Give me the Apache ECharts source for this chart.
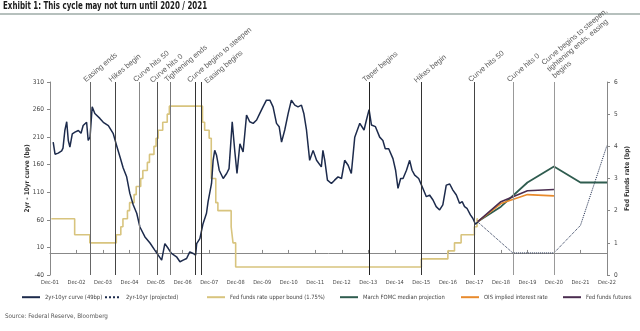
<!DOCTYPE html>
<html><head><meta charset="utf-8">
<script src="https://cdn.jsdelivr.net/npm/echarts@6/dist/echarts.min.js"></script>
<style>html,body{margin:0;padding:0;background:#fff}#c{width:640px;height:331px}</style>
</head><body><div id="c"></div>
<script>
// x values are years after Dec 2001 (0 = Dec-01, 21 = Dec-22)
const xTickLabels = ['Dec-01','Dec-02','Dec-03','Dec-04','Dec-05','Dec-06','Dec-07','Dec-08','Dec-09','Dec-10','Dec-11','Dec-12','Dec-13','Dec-14','Dec-15','Dec-16','Dec-17','Dec-18','Dec-19','Dec-20','Dec-21','Dec-22'];

// 2yr-10yr curve (bp), left axis
const curveT = [0.12,0.19,0.31,0.44,0.49,0.56,0.63,0.69,0.75,0.84,0.94,1.07,1.17,1.25,1.38,1.44,1.51,1.59,1.69,1.88,2.01,2.20,2.38,2.51,2.64,2.76,2.89,3.01,3.14,3.27,3.39,3.58,3.77,3.95,4.08,4.21,4.33,4.46,4.58,4.77,4.90,5.02,5.15,5.27,5.40,5.49,5.53,5.65,5.77,5.90,5.96,6.09,6.15,6.21,6.28,6.38,6.53,6.66,6.75,6.87,6.97,7.05,7.16,7.28,7.41,7.53,7.66,7.79,7.91,8.03,8.16,8.29,8.41,8.54,8.64,8.73,8.85,8.98,9.10,9.23,9.35,9.48,9.57,9.67,9.79,9.92,10.05,10.11,10.23,10.29,10.36,10.46,10.61,10.73,10.86,10.99,11.11,11.24,11.36,11.49,11.68,11.84,11.93,12.03,12.12,12.27,12.43,12.55,12.64,12.77,12.93,13.03,13.12,13.22,13.31,13.44,13.56,13.65,13.75,13.90,14.06,14.19,14.31,14.44,14.56,14.69,14.81,14.94,15.07,15.19,15.32,15.44,15.54,15.63,15.72,15.76,15.85,15.94,16.04,16.13];
const curveV = [201,179,181,185,190,222,238,204,192,216,219,222,217,231,237,204,210,265,253,244,237,231,217,195,174,154,138,108,87,72,47,29,18,5,-4,-13,17,8,-1,-7,-16,-13,-10,2,-1,-4,17,26,53,72,93,126,168,186,177,150,135,144,153,238,183,144,198,183,250,238,235,241,253,265,277,277,265,235,229,201,223,253,277,268,265,268,253,223,168,186,168,165,156,186,168,132,126,132,138,135,168,159,144,210,235,223,241,260,232,229,210,204,189,189,171,150,117,135,135,150,168,150,141,135,117,102,105,96,84,78,87,123,125,114,105,90,93,84,81,84,69,63,52,56];

// 2yr-10yr projected (bp), left axis
const projT = [16.13,17.45,19.0,20.0,21.0];
const projV = [56,0,0,50,195];

// Fed funds rate upper bound (%), right axis
const fedT = [0.05,0.93,1.5,2.5,2.67,2.75,2.92,3.0,3.17,3.25,3.42,3.5,3.67,3.75,3.92,4.0,4.08,4.25,4.42,4.5,5.75,5.83,6.0,6.08,6.25,6.33,6.83,6.9,7.0,14.0,15.0,15.25,15.5,16.0,16.1,16.13];
const fedV = [1.75,1.25,1.0,1.25,1.5,1.75,2.0,2.25,2.5,2.75,3.0,3.25,3.5,3.75,4.0,4.25,4.5,4.75,5.0,5.25,4.75,4.5,4.25,3.0,2.25,2.0,1.5,1.0,0.25,0.5,0.75,1.0,1.25,1.5,1.75,1.75];

// Projections (%), right axis
const fomcT = [16.13,17,18,19,20,21];
const fomcV = [1.66,2.125,2.875,3.375,2.875,2.875];
const oisT = [16.13,17,18,19];
const oisV = [1.66,2.22,2.5,2.46];
const futT = [16.13,17,18,19];
const futV = [1.66,2.28,2.62,2.66];

// Event markers
const eventT = [1.5,2.45,3.37,4.03,4.55,5.49,5.72,12.02,13.99,16.0,17.46,19.0];
const eventLabels = ['Easing ends','Hikes begin','Curve hits 50','Curve hits 0','Tightening ends','Curve begins to steepen','Easing begins','Taper begins','Hikes begin','Curve hits 50','Curve hits 0','Curve begins to steepen,\ntightening ends, easing\nbegins'];
const eventColors = ['#666','#444','#888','#555','#777','#333','#333','#222','#333','#444','#999','#999'];
const eventOffset = [[-3,0],[-3,0],[-3,0],[-4,0],[-3,0],[-5,-1],[3,7],[-3,0],[-4,0],[-3,0],[-3,0],[3,0]];

const seriesNames = ['2yr-10yr curve (49bp)','2yr-10yr (projected)','Fed funds rate upper bound (1.75%)','March FOMC median projection','OIS implied interest rate','Fed funds futures'];
const legendLeft = [21,104,206,339,460,562];

const zip = (a,b) => a.map((v,i)=>[v,b[i]]);
const NARROW = "'Liberation Sans Narrow','DejaVu Sans Condensed','Liberation Sans',sans-serif";
const SANS = "'Liberation Sans',Arial,sans-serif";

const chart = echarts.init(document.getElementById('c'), null, {renderer:'canvas'});
chart.setOption({
  animation:false,
  backgroundColor:'#fff',
  title:[
    {text:'Source: Federal Reserve, Bloomberg', left:5, top:313, padding:0,
     textStyle:{fontSize:6.3, fontWeight:'normal', color:'#555', fontFamily:NARROW}}
  ],
  graphic:[
    {type:'text', left:3, top:1, scaleX:0.75, style:{text:'Exhibit 1: This cycle may not turn until 2020 / 2021',
      font:"bold 10.5px 'Liberation Sans Narrow','DejaVu Sans Condensed','Liberation Sans',sans-serif", fill:'#1a1a1a'}},
    {type:'line', shape:{x1:0,y1:14,x2:640,y2:14}, style:{stroke:'#6f827d', lineWidth:1.2}}
  ],
  legend: seriesNames.map((n,i)=>({
    data:[n], left:legendLeft[i], top:294, itemWidth:i===1?16:18, itemHeight:8, padding:0,
    itemStyle:{opacity:0},
    textStyle:{fontSize:5.8, color:'#444', fontFamily:NARROW}, selectedMode:false
  })),
  grid:{left:50, right:33, top:82, bottom:56},
  xAxis:{type:'value', min:0, max:21, interval:1,
    axisLine:{lineStyle:{color:'#888'}},
    axisTick:{inside:true, length:3, lineStyle:{color:'#888'}},
    splitLine:{show:false},
    axisLabel:{formatter:v=>xTickLabels[Math.round(v)], fontSize:5.6, color:'#444', margin:5, fontFamily:NARROW}},
  yAxis:[
    {type:'value', min:-40, max:310, interval:50, name:'2yr - 10yr curve (bp)', nameLocation:'middle', nameGap:19,
     nameMoveOverlap:false,
     nameTextStyle:{fontSize:6.5, fontWeight:'bold', color:'#333', fontFamily:NARROW},
     axisLine:{show:true, lineStyle:{color:'#888'}}, axisTick:{show:true, length:3, lineStyle:{color:'#888'}},
     splitLine:{show:false}, axisLabel:{fontSize:6.5, color:'#444', margin:6, fontFamily:NARROW}},
    {type:'value', min:0, max:6, interval:1, name:'Fed Funds rate (bp)', nameLocation:'middle', nameGap:17,
     nameMoveOverlap:false,
     nameTextStyle:{fontSize:6.5, fontWeight:'bold', color:'#333', fontFamily:NARROW},
     axisLine:{show:true, lineStyle:{color:'#888'}}, axisTick:{show:true, length:3, lineStyle:{color:'#888'}},
     splitLine:{show:false}, axisLabel:{fontSize:6.5, color:'#444', margin:7, fontFamily:NARROW}}
  ],
  series:[
    {name:'Fed funds rate upper bound (1.75%)', type:'line', yAxisIndex:1, step:'end', symbol:'none',
     data:zip(fedT,fedV), lineStyle:{color:'#d8c47e', width:1.6}, itemStyle:{color:'#d8c47e'}, z:2},
    {name:'2yr-10yr curve (49bp)', type:'line', yAxisIndex:0, symbol:'none',
     data:zip(curveT,curveV), lineStyle:{color:'#1d2b4c', width:1.5}, itemStyle:{color:'#1d2b4c'}, z:4},
    {name:'2yr-10yr (projected)', type:'line', yAxisIndex:0, symbol:'none',
     data:zip(projT,projV), lineStyle:{color:'#1d2b4c', width:1, type:'dotted'}, itemStyle:{color:'#1d2b4c'}, z:3},
    {name:'March FOMC median projection', type:'line', yAxisIndex:1, symbol:'none',
     data:zip(fomcT,fomcV), lineStyle:{color:'#2f5c4f', width:1.8}, itemStyle:{color:'#2f5c4f'}, z:3},
    {name:'OIS implied interest rate', type:'line', yAxisIndex:1, symbol:'none',
     data:zip(oisT,oisV), lineStyle:{color:'#e88a2c', width:1.6}, itemStyle:{color:'#e88a2c'}, z:3},
    {name:'Fed funds futures', type:'line', yAxisIndex:1, symbol:'none',
     data:zip(futT,futV), lineStyle:{color:'#4b2d50', width:1.6}, itemStyle:{color:'#4b2d50'}, z:3},
    {name:'events', type:'scatter', yAxisIndex:0, symbolSize:0, silent:true, clip:false, z:1,
     data:eventT.map((t,i)=>({value:[t,310], label:{offset:eventOffset[i]}})),
     label:{show:true, formatter:p=>eventLabels[p.dataIndex], position:'top', distance:0,
       align:'left', verticalAlign:'bottom', rotate:40,
       fontSize:7.5, color:'#333', lineHeight:8.5, fontFamily:SANS},
     markLine:{silent:true, symbol:'none', label:{show:false},
       data:eventT.map((t,i)=>({xAxis:t, lineStyle:{color:eventColors[i], width:1, type:'solid'}}))}}
  ]
});
</script></body></html>
